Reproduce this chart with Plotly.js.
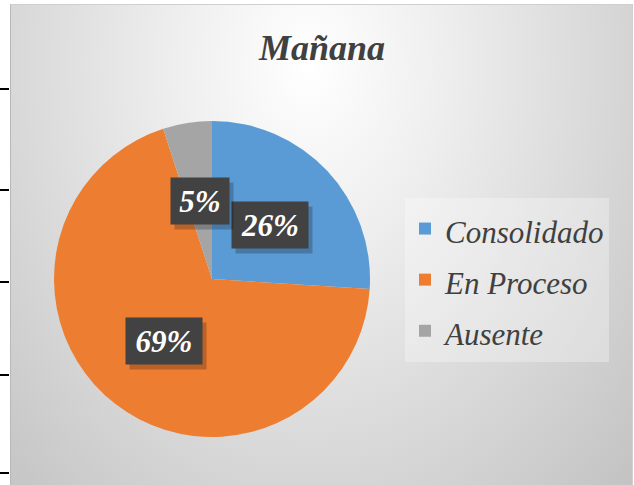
<!DOCTYPE html>
<html>
<head>
<meta charset="utf-8">
<script src="https://cdn.plot.ly/plotly-3.0.1.min.js"></script>
<style>
    html, body { margin: 0; padding: 0; background: #ffffff; }
    #wrap { position: relative; width: 634px; height: 485px; overflow: hidden; }
    /* fondo del gráfico con degradado radial, como en Excel */
    #bg {
        position: absolute; left: 10px; top: 4px; width: 621px; height: 490px;
        border-left: 1px solid #b8b8b8; border-top: 1px solid #cfcfcf; border-right: 1px solid #d0d0d0;
        background: radial-gradient(ellipse farthest-corner at 48% 12%, #ffffff 0%, #eeeeee 30%, #d8d8d8 65%, #c2c2c2 100%);
    }
    #chart { position: absolute; left: 0; top: 0; width: 634px; height: 485px; }
</style>
</head>
<body>
<div id="wrap">
    <div id="bg"></div>
    <div id="chart"></div>
</div>
<script>
// datos del gráfico
const categorias = ['Consolidado', 'En Proceso', 'Ausente'];
const valores = [26, 69, 5];
const colores = ['#5B9BD5', '#ED7D31', '#A5A5A5'];
const tituloTexto = 'Mañana';

// marcas del eje de la hoja detrás del gráfico (px desde arriba)
const marcasHoja = [89, 190, 282, 375, 473];

const W = 634, H = 485;

// dominio del pie en píxeles
const pieLeft = 54, pieRight = 370, pieTop = 121, pieBottom = 437;
const dom = {
    x: [pieLeft / W, pieRight / W],
    y: [1 - pieBottom / H, 1 - pieTop / H]
};

const trace = {
    type: 'pie',
    labels: categorias.map(c => `<span style="font-size:31px">${c}</span>`),
    values: valores,
    sort: false,
    direction: 'clockwise',
    rotation: 0,
    textinfo: 'none',
    hoverinfo: 'label+percent',
    marker: { colors: colores, line: { color: '#ffffff', width: 0 } },
    domain: dom
};

// etiquetas de porcentaje: en el centro del radio, en el ángulo medio de cada porción
const total = valores.reduce((a, b) => a + b, 0);
const cx = (dom.x[0] + dom.x[1]) / 2;
const cy = (dom.y[0] + dom.y[1]) / 2;
const rx = (dom.x[1] - dom.x[0]) / 2;
const ry = (dom.y[1] - dom.y[0]) / 2;

const annotations = [];
let acumulado = 0;
valores.forEach((v) => {
    const medio = (acumulado + v / 2) / total * 2 * Math.PI;
    acumulado += v;
    const texto = Math.round(v / total * 100) + '%';
    const x = cx + 0.5 * rx * Math.sin(medio);
    const y = cy + 0.5 * ry * Math.cos(medio);
    const ancho = 22 + 18 * texto.length;
    const base = {
        x: x, y: y, xref: 'paper', yref: 'paper', showarrow: false,
        xanchor: 'center', yanchor: 'middle',
        width: ancho, height: 46, borderpad: 0
    };
    // sombra (caja sin texto)
    annotations.push(Object.assign({}, base, {
        text: ' ',
        xshift: 4, yshift: -5,
        bgcolor: 'rgba(0,0,0,0.22)',
        font: { family: 'Liberation Serif', size: 31, color: 'rgba(0,0,0,0)' }
    }));
    annotations.push(Object.assign({}, base, {
        text: texto,
        bgcolor: '#424242',
        font: { family: 'Liberation Serif', size: 31, color: '#ffffff', weight: 'bold', style: 'italic' }
    }));
});

const shapes = marcasHoja.map(py => ({
    type: 'line', xref: 'paper', yref: 'paper',
    x0: 0, x1: 9 / W, y0: 1 - py / H, y1: 1 - py / H,
    line: { color: '#000000', width: 2 }
}));

const layout = {
    width: W,
    height: H,
    margin: { l: 0, r: 0, t: 0, b: 0 },
    paper_bgcolor: 'rgba(0,0,0,0)',
    plot_bgcolor: 'rgba(0,0,0,0)',
    title: {
        text: tituloTexto,
        x: 322 / W, xref: 'paper', xanchor: 'center',
        y: 1 - 47 / H, yref: 'container', yanchor: 'middle',
        font: { family: 'Liberation Serif', size: 36, color: '#404040', weight: 'bold', style: 'italic' }
    },
    showlegend: true,
    legend: {
        x: 405 / W, xanchor: 'left',
        y: 1 - 198 / H, yanchor: 'top',
        bgcolor: 'rgba(255,255,255,0.3)',
        font: { family: 'Liberation Serif', size: 37, color: '#404040', style: 'italic' },
        itemclick: false
    },
    annotations: annotations,
    shapes: shapes
};

Plotly.newPlot('chart', [trace], layout, { displayModeBar: false, staticPlot: true });
</script>
</body>
</html>
